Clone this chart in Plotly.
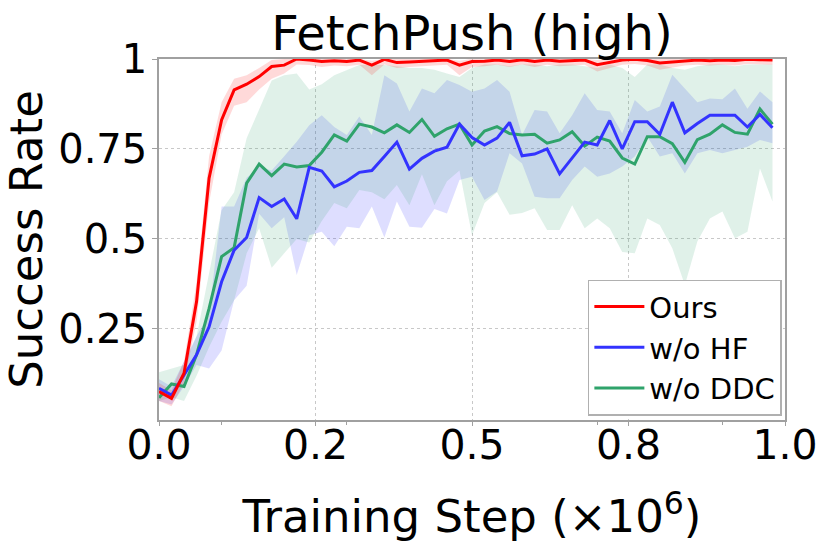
import plotly.graph_objects as go

steps = [0.00,0.02,0.04,0.06,0.08,0.10,0.12,0.14,0.16,0.18,
         0.20,0.22,0.24,0.26,0.28,0.30,0.32,0.34,0.36,0.38,
         0.40,0.42,0.44,0.46,0.48,0.50,0.52,0.54,0.56,0.58,
         0.60,0.62,0.64,0.66,0.68,0.70,0.72,0.74,0.76,0.78,
         0.80,0.82,0.84,0.86,0.88,0.90,0.92,0.94,0.96,0.98]

ours = [0.076,0.057,0.127,0.326,0.669,0.831,0.914,0.930,0.951,0.979,
        0.983,1.000,0.997,0.993,0.995,0.993,0.997,0.983,0.999,0.990,
        0.992,0.993,0.996,0.997,0.983,0.993,0.994,0.997,0.993,0.998,
        0.993,0.997,0.994,0.996,0.997,0.984,0.990,0.997,0.999,0.996,
        0.989,0.992,0.995,0.997,0.995,0.997,0.996,0.999,0.998,0.997]
ours_lo = [0.050,0.035,0.100,0.270,0.600,0.790,0.870,0.880,0.915,0.945,
           0.960,0.985,0.983,0.978,0.982,0.980,0.984,0.955,0.985,0.975,
           0.978,0.980,0.982,0.984,0.955,0.978,0.980,0.984,0.978,0.985,
           0.978,0.984,0.980,0.982,0.984,0.965,0.975,0.984,0.986,0.982,
           0.970,0.976,0.982,0.984,0.982,0.984,0.982,0.986,0.985,0.984]
ours_hi = [0.100,0.080,0.160,0.380,0.730,0.880,0.945,0.955,0.975,0.997,
           1.000,1.000,1.000,1.000,1.000,1.000,1.000,0.995,1.000,1.000,
           1.000,1.000,1.000,1.000,0.995,1.000,1.000,1.000,1.000,1.000,
           1.000,1.000,1.000,1.000,1.000,0.997,1.000,1.000,1.000,1.000,
           1.000,1.000,1.000,1.000,1.000,1.000,1.000,1.000,1.000,1.000]

wo_hf = [0.085,0.066,0.122,0.178,0.256,0.381,0.469,0.504,0.615,0.590,
         0.611,0.556,0.699,0.689,0.645,0.661,0.685,0.690,0.729,0.769,
         0.694,0.724,0.744,0.755,0.819,0.782,0.761,0.780,0.824,0.731,
         0.736,0.750,0.681,0.724,0.769,0.761,0.829,0.750,0.826,0.826,
         0.791,0.880,0.795,0.821,0.844,0.844,0.844,0.811,0.846,0.809]
wo_hf_lo = [0.050,0.040,0.090,0.150,0.140,0.190,0.330,0.370,0.570,0.530,
            0.560,0.400,0.510,0.520,0.480,0.534,0.530,0.590,0.504,0.604,
            0.534,0.531,0.583,0.571,0.664,0.673,0.608,0.632,0.738,0.710,
            0.617,0.613,0.613,0.664,0.701,0.673,0.682,0.701,0.729,0.784,
            0.729,0.738,0.682,0.738,0.747,0.738,0.747,0.756,0.775,0.766]
wo_hf_hi = [0.110,0.090,0.160,0.230,0.290,0.590,0.590,0.670,0.700,0.690,
            0.730,0.770,0.816,0.844,0.811,0.789,0.840,0.789,0.955,0.932,
            0.854,0.918,0.905,0.942,0.928,0.909,0.918,0.942,0.909,0.789,
            0.858,0.854,0.794,0.844,0.905,0.858,0.854,0.794,0.886,0.854,
            0.868,0.956,0.918,0.880,0.890,0.888,0.918,0.862,0.910,0.880]

wo_ddc = [0.059,0.097,0.090,0.178,0.307,0.451,0.476,0.655,0.708,0.676,
          0.708,0.700,0.704,0.741,0.789,0.772,0.819,0.811,0.795,0.817,
          0.796,0.832,0.785,0.806,0.819,0.761,0.800,0.812,0.793,0.789,
          0.791,0.766,0.775,0.798,0.758,0.783,0.772,0.725,0.708,0.784,
          0.784,0.765,0.713,0.776,0.791,0.817,0.796,0.791,0.861,0.819]
wo_ddc_lo = [0.050,0.060,0.050,0.120,0.200,0.270,0.330,0.460,0.530,0.420,
             0.460,0.500,0.490,0.550,0.600,0.585,0.636,0.630,0.610,0.650,
             0.594,0.680,0.594,0.660,0.690,0.510,0.600,0.630,0.567,0.572,
             0.585,0.525,0.525,0.594,0.530,0.557,0.530,0.464,0.460,0.557,
             0.539,0.474,0.372,0.493,0.557,0.576,0.502,0.520,0.696,0.604]
wo_ddc_hi = [0.130,0.140,0.150,0.230,0.410,0.580,0.630,0.780,0.860,0.940,
             0.955,0.960,0.915,0.930,0.955,0.970,0.983,0.983,0.983,0.980,
             0.975,0.975,0.970,0.960,0.950,0.975,0.985,0.985,0.980,0.985,
             0.985,0.980,0.985,0.985,0.980,0.975,0.985,0.975,0.950,0.985,
             0.985,0.975,0.970,0.980,0.985,0.985,0.980,0.985,0.985,0.985]

x_tickvals = [0, 0.25, 0.5, 0.75, 1.0]
x_ticktext = ["0.0", "0.2", "0.5", "0.8", "1.0"]
y_tickvals = [0.25, 0.5, 0.75, 1.0]
y_ticktext = ["0.25", "0.5", "0.75", "1"]

RED = "#ff0000"
BLUE = "#3333ff"
GREEN = "#2fa36b"
FONT = "DejaVu Sans, Liberation Sans, Arial, sans-serif"

fig = go.Figure()

def band(lo, hi, fill):
    fig.add_trace(go.Scatter(x=steps, y=lo, mode="lines", line=dict(width=0),
                             showlegend=False, hoverinfo="skip"))
    fig.add_trace(go.Scatter(x=steps, y=hi, mode="lines", line=dict(width=0),
                             fill="tonexty", fillcolor=fill,
                             showlegend=False, hoverinfo="skip"))

band(wo_hf_lo, wo_hf_hi, "rgba(0,0,255,0.13)")
band(wo_ddc_lo, wo_ddc_hi, "rgba(46,160,107,0.15)")
band(ours_lo, ours_hi, "rgba(255,0,0,0.15)")

fig.add_trace(go.Scatter(x=steps, y=wo_ddc, mode="lines", name="w/o DDC",
                         line=dict(color=GREEN, width=3), legendrank=3, legendgroup="c"))
fig.add_trace(go.Scatter(x=steps, y=wo_hf, mode="lines", name="w/o HF",
                         line=dict(color=BLUE, width=3), legendrank=2, legendgroup="b"))
fig.add_trace(go.Scatter(x=steps, y=ours, mode="lines", name="Ours",
                         line=dict(color=RED, width=3), legendrank=1, legendgroup="a"))

fig.update_layout(
    width=830, height=554,
    margin=dict(l=159, r=43, t=59, b=134),
    paper_bgcolor="white", plot_bgcolor="white",
    font=dict(family=FONT, color="black"),
    title=dict(text="FetchPush (high)", x=0.5, xref="paper", xanchor="center",
               y=1 - 33 / 554, yref="container", yanchor="middle",
               font=dict(size=48, color="black")),
    legend=dict(x=0.995, y=0.012, xanchor="right", yanchor="bottom",
                bgcolor="white", bordercolor="#b0b0b0", borderwidth=1.5,
                font=dict(size=29), tracegroupgap=12, traceorder="normal",
                itemwidth=50),
    showlegend=True,
)

fig.update_xaxes(range=[0, 1], tickvals=x_tickvals, ticktext=x_ticktext,
                 tickfont=dict(size=41), showgrid=True, gridcolor="#c8c8c8",
                 griddash="dot", gridwidth=1, showline=True, linecolor="#a0a0a0",
                 linewidth=1.5, mirror=True, ticks="outside", ticklen=4,
                 tickcolor="#a0a0a0", zeroline=False, ticklabelstandoff=-16,
                 minor=dict(tickvals=[0.1, 0.3, 0.7, 0.9], ticks="outside",
                            ticklen=3, tickcolor="#a0a0a0", showgrid=False),
                 title=dict(text="Training Step (×10<sup>6</sup>)",
                            font=dict(size=45), standoff=33))
fig.update_yaxes(range=[-0.003, 1.0], tickvals=y_tickvals, ticktext=y_ticktext,
                 tickfont=dict(size=40), showgrid=True, gridcolor="#c8c8c8",
                 griddash="dot", gridwidth=1, showline=True, linecolor="#a0a0a0",
                 linewidth=1.5, mirror=True, ticks="outside", ticklen=5,
                 tickcolor="#a0a0a0", zeroline=False, ticklabelstandoff=-3,
                 title=dict(text="Success Rate", font=dict(size=45), standoff=15))

fig.write_html("out.html", config={"displayModeBar": False},
               post_script="document.body.style.margin='0';")
